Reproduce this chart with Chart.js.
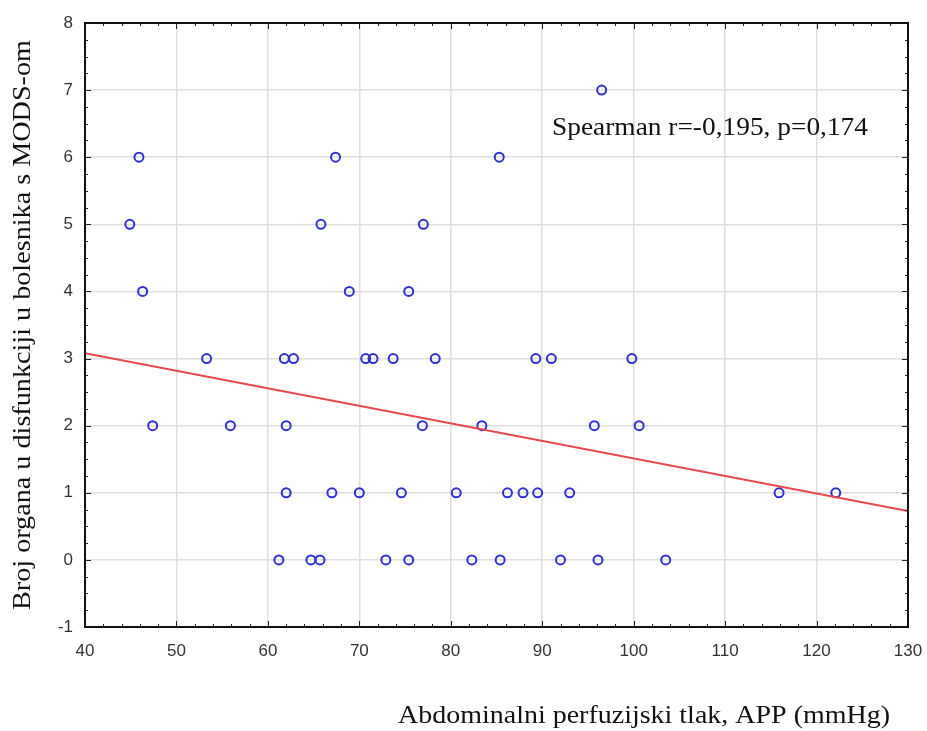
<!DOCTYPE html>
<html>
<head>
<meta charset="utf-8">
<script src="https://cdn.jsdelivr.net/npm/chart.js@4.4.1/dist/chart.umd.min.js"></script>
<style>
  body { margin: 0; background: #fff; }
  canvas { display: block; }
</style>
</head>
<body>
<canvas id="chart" width="927" height="731"></canvas>
<script>
// values (x = APP mmHg, y = number of organs)
const appX = [96.5,
  45.9, 67.4, 85.3,
  44.9, 65.8, 77.0,
  46.3, 68.9, 75.4,
  53.3, 61.8, 62.8, 70.7, 71.5, 73.7, 78.3, 89.3, 91.0, 99.8,
  47.4, 55.9, 62.0, 76.9, 83.4, 95.7, 100.6,
  62.0, 67.0, 70.0, 74.6, 80.6, 86.2, 87.9, 89.5, 93.0, 115.9, 122.1,
  61.2, 64.7, 65.7, 72.9, 75.4, 82.3, 85.4, 92.0, 96.1, 103.5];
const organs = [7,
  6, 6, 6,
  5, 5, 5,
  4, 4, 4,
  3, 3, 3, 3, 3, 3, 3, 3, 3, 3,
  2, 2, 2, 2, 2, 2, 2,
  1, 1, 1, 1, 1, 1, 1, 1, 1, 1, 1,
  0, 0, 0, 0, 0, 0, 0, 0, 0, 0];
// fitted line ends
const fitX = [40, 130];
const fitY = [3.08, 0.73];
const xTitle = 'Abdominalni perfuzijski tlak, APP (mmHg)';
const yTitle = 'Broj organa u disfunkciji u bolesnika s MODS-om';
const note = 'Spearman r=-0,195, p=0,174';

const points = appX.map((x, i) => ({ x: x, y: organs[i] }));
const line = fitX.map((x, i) => ({ x: x, y: fitY[i] }));

// serif text fitted to the width it has in the scan
function wideText(ctx, txt, x, y, w, align, angle) {
  ctx.save();
  ctx.translate(x, y);
  ctx.rotate(angle || 0);
  ctx.scale(w / ctx.measureText(txt).width, 1);
  ctx.textAlign = align;
  ctx.textBaseline = 'middle';
  ctx.fillText(txt, 0, 0);
  ctx.restore();
}

// frame, inner ticks and the texts
const decor = {
  id: 'decor',
  afterDraw(chart) {
    const ctx = chart.ctx;
    const a = chart.chartArea;
    const xs = chart.scales.x, ys = chart.scales.y;
    ctx.save();
    ctx.strokeStyle = '#222';
    ctx.lineWidth = 1;
    for (let v = 40; v <= 130; v += 2) {
      const p = Math.round(xs.getPixelForValue(v)) + 0.5;
      const len = v % 10 === 0 ? 6 : 3;
      ctx.beginPath();
      ctx.moveTo(p, a.bottom); ctx.lineTo(p, a.bottom - len);
      ctx.moveTo(p, a.top); ctx.lineTo(p, a.top + len);
      ctx.stroke();
    }
    for (let v = -1; v <= 8.001; v += 0.25) {
      const p = Math.round(ys.getPixelForValue(v)) + 0.5;
      const len = Math.abs(v - Math.round(v)) < 0.01 ? 6 : 3;
      ctx.beginPath();
      ctx.moveTo(a.left, p); ctx.lineTo(a.left + len, p);
      ctx.moveTo(a.right, p); ctx.lineTo(a.right - len, p);
      ctx.stroke();
    }
    ctx.lineWidth = 2;
    ctx.strokeStyle = '#111';
    ctx.strokeRect(a.left, a.top, a.right - a.left, a.bottom - a.top);

    ctx.fillStyle = '#111';
    ctx.font = '26px "Liberation Serif", "Times New Roman", serif';
    wideText(ctx, note, 552, 128, 316, 'left');
    wideText(ctx, xTitle, 644, 716, 492, 'center');
    wideText(ctx, yTitle, 23, 325, 570, 'center', -Math.PI / 2);
    ctx.restore();
  }
};

new Chart(document.getElementById('chart').getContext('2d'), {
  type: 'scatter',
  data: {
    datasets: [
      {
        label: 'fit',
        type: 'line',
        data: line,
        borderColor: '#e8474c',
        borderWidth: 2,
        pointRadius: 0,
        fill: false
      },
      {
        label: 'APP',
        data: points,
        pointStyle: 'circle',
        pointRadius: 4.5,
        pointBorderWidth: 2,
        pointBorderColor: '#3030d0',
        pointBackgroundColor: 'rgba(0,0,0,0)'
      }
    ]
  },
  options: {
    responsive: false,
    animation: false,
    devicePixelRatio: 1,
    layout: { padding: { top: 23, right: 19, left: 0, bottom: 0 } },
    plugins: { legend: { display: false }, tooltip: { enabled: false } },
    scales: {
      x: {
        type: 'linear',
        min: 40, max: 130,
        ticks: { stepSize: 10, color: '#333', padding: 14, font: { family: 'Liberation Sans, Arial', size: 17 } },
        grid: { color: '#dedede', lineWidth: 1.5, drawTicks: false },
        border: { display: false },
        afterFit(s) { s.height = 104; s.paddingLeft = 0; s.paddingRight = 0; }
      },
      y: {
        type: 'linear',
        min: -1, max: 8,
        ticks: { stepSize: 1, color: '#333', padding: 12, font: { family: 'Liberation Sans, Arial', size: 17 } },
        grid: { color: '#dedede', lineWidth: 1.5, drawTicks: false },
        border: { display: false },
        afterFit(s) { s.width = 85; s.paddingTop = 0; s.paddingBottom = 0; }
      }
    }
  },
  plugins: [decor]
});
</script>
</body>
</html>
